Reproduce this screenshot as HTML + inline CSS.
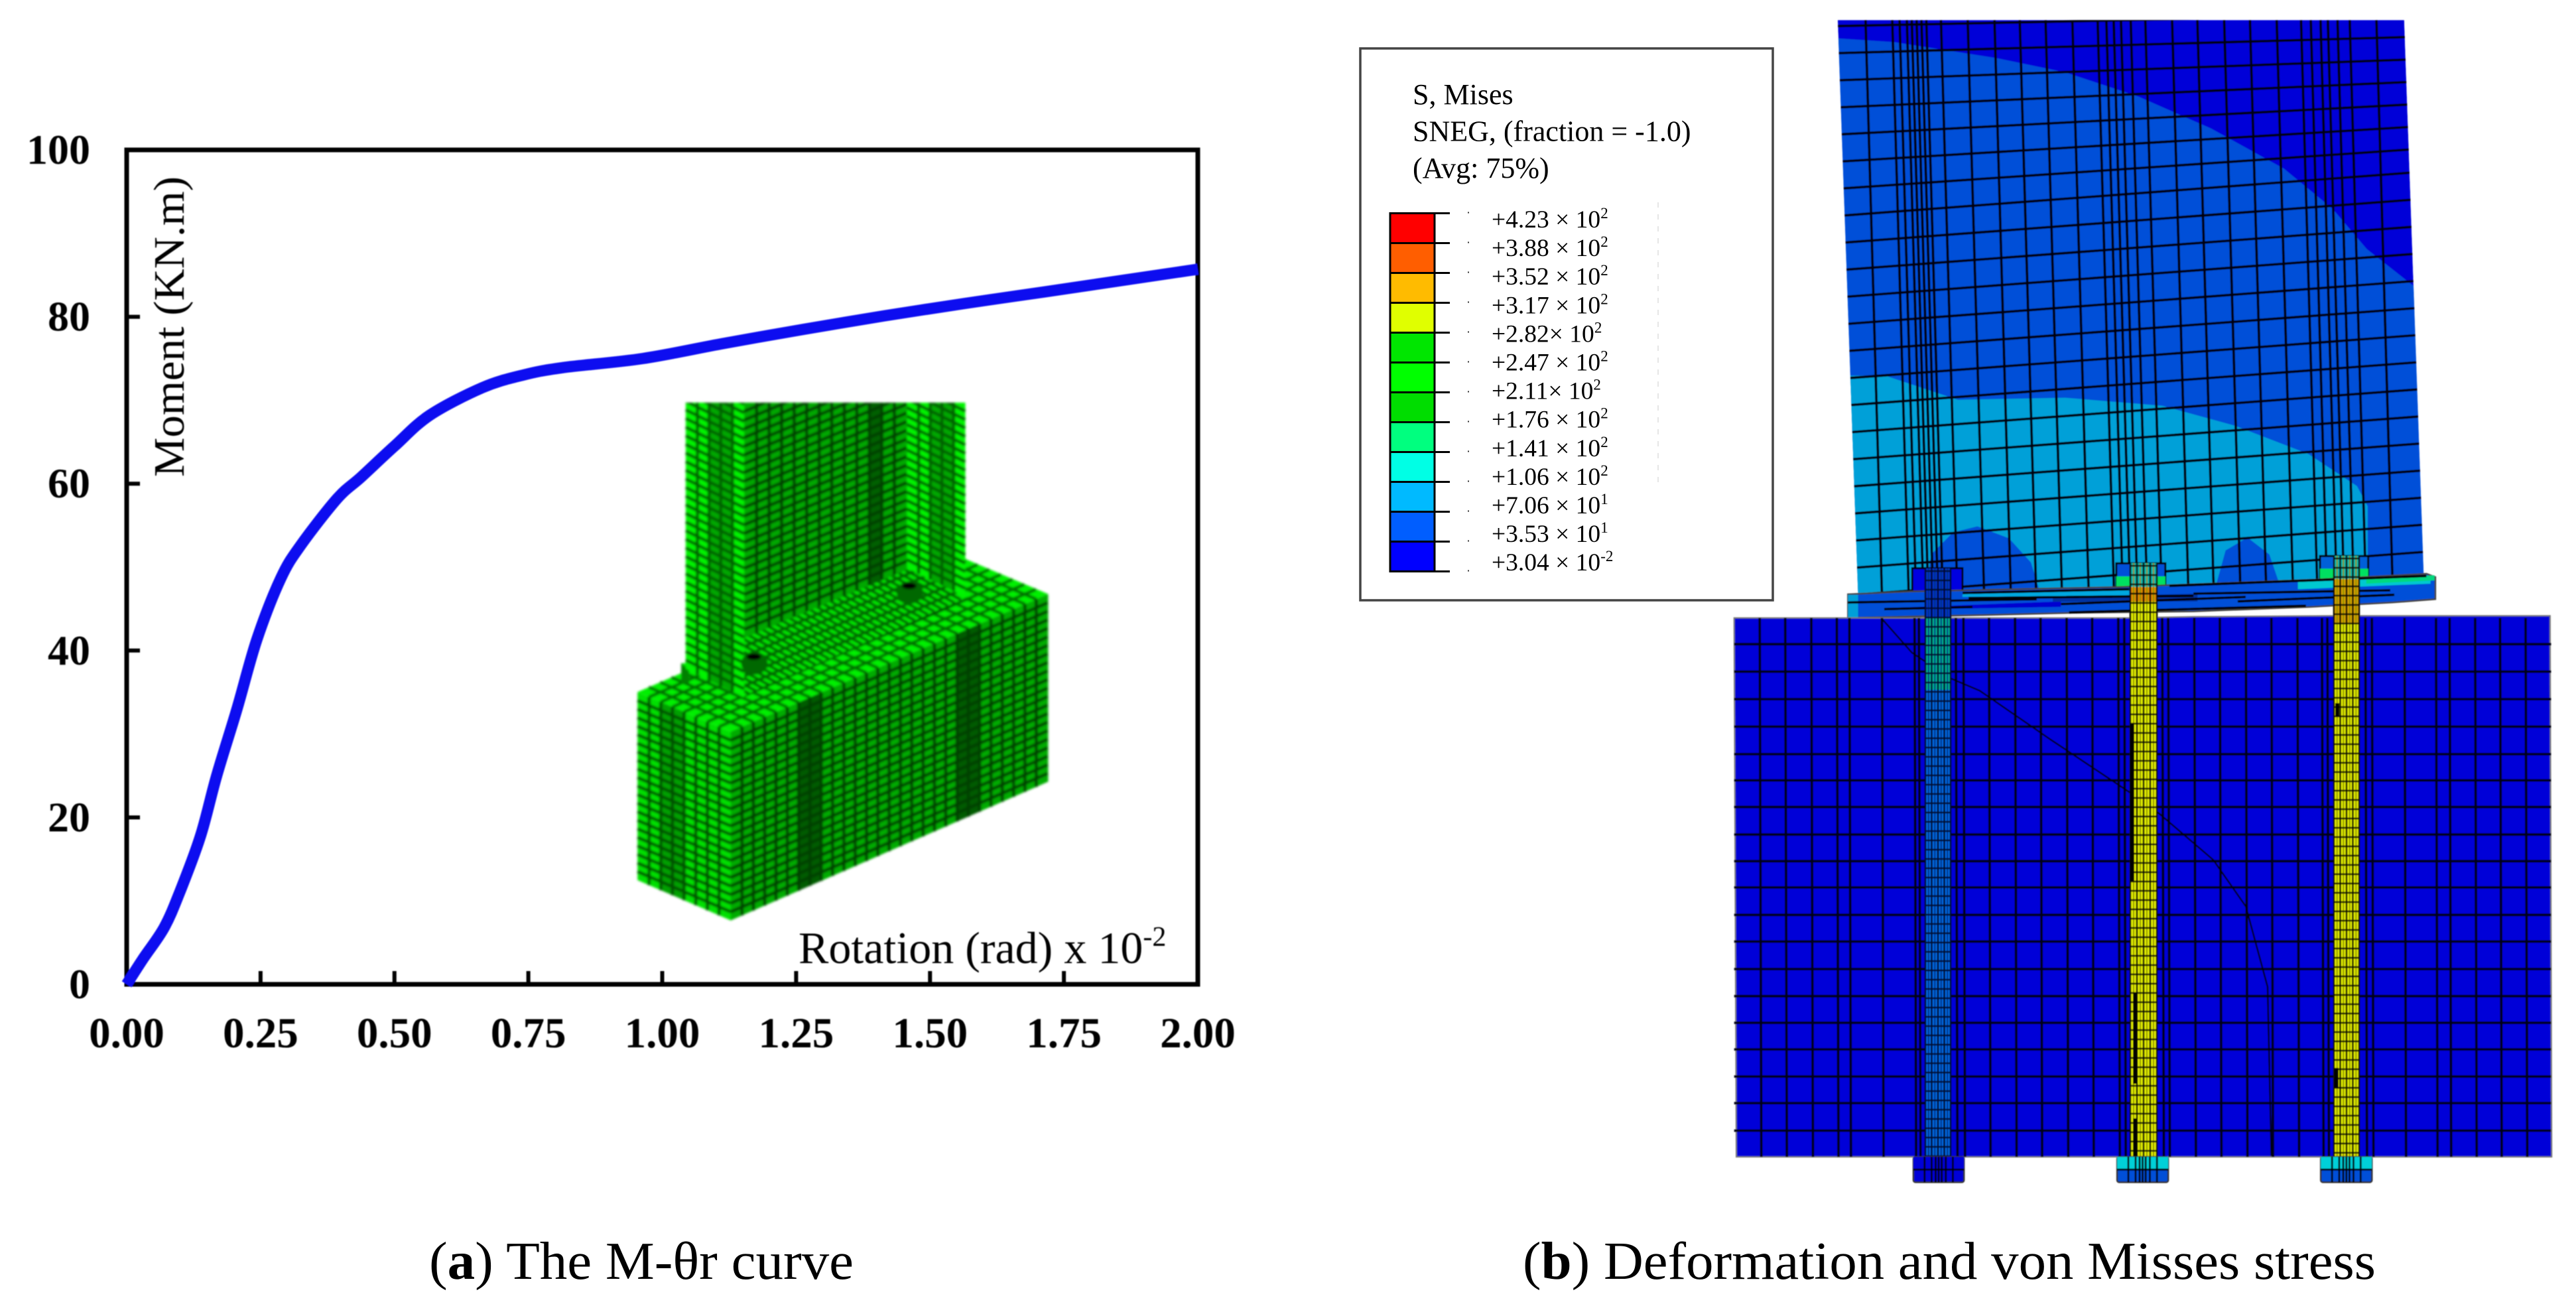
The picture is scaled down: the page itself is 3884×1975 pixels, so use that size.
<!DOCTYPE html>
<html lang="en">
<head>
<meta charset="utf-8">
<title>M-θr curve and von Mises stress</title>
<style>
html,body{margin:0;padding:0;background:#fff;width:3884px;height:1975px;overflow:hidden}
svg{display:block}
text{font-family:"Liberation Serif",serif;fill:#000}
</style>
</head>
<body>
<svg id="fig" xmlns="http://www.w3.org/2000/svg" width="3884" height="1975" viewBox="0 0 3884 1975">
  <defs>
    <filter id="soft" x="-2%" y="-2%" width="104%" height="104%"><feGaussianBlur stdDeviation="1.8"/></filter>
    <filter id="softer" x="-2%" y="-2%" width="104%" height="104%"><feGaussianBlur stdDeviation="0.7"/></filter>
    <filter id="softtext" x="-2%" y="-2%" width="104%" height="104%"><feGaussianBlur stdDeviation="0.9"/></filter>
    <clipPath id="columnTopClip"><rect x="1000" y="607" width="500" height="700"/></clipPath>
  </defs>
  <rect width="3884" height="1975" fill="#fff"/>
  <g id="inset" filter="url(#soft)"></g>
  <g id="chart" filter="url(#softtext)"></g>
  <g id="legend"></g>
  <g id="model" filter="url(#softer)"></g>
  <text x="647" y="1928" font-size="80" textLength="640" lengthAdjust="spacingAndGlyphs">(<tspan font-weight="bold">a</tspan>) The M-θr curve</text>
  <text x="2296" y="1928" font-size="80" textLength="1286" lengthAdjust="spacingAndGlyphs">(<tspan font-weight="bold">b</tspan>) Deformation and von Misses stress</text>
</svg>
<script>
/* ---------- chart data ---------- */
const rotationValues = [0, 0.03, 0.07, 0.10, 0.138, 0.168, 0.206, 0.243, 0.288, 0.326, 0.393, 0.438, 0.50, 0.566, 0.664, 0.739, 0.814, 0.964, 1.114, 1.264, 1.414, 1.565, 1.715, 2.0];
const momentValues   = [0, 3.0, 6.8, 11.2, 17.8, 25.0, 33.0, 41.3, 48.7, 52.7, 58.2, 60.8, 64.5, 68.2, 71.5, 73.0, 73.9, 75.0, 76.8, 78.5, 80.1, 81.6, 83.0, 85.7];
const xTickLabels = ["0.00", "0.25", "0.50", "0.75", "1.00", "1.25", "1.50", "1.75", "2.00"];
const yTickLabels = ["0", "20", "40", "60", "80", "100"];

/* ---------- legend data ---------- */
const legendColors = ["#ff0000", "#ff5e00", "#ffbb00", "#e0ff00", "#00e600", "#00ff00", "#00dd00", "#00ff7f", "#00ffe5", "#00baff", "#005eff", "#0000ff"];
const legendMantissas = ["+4.23 × 10", "+3.88 × 10", "+3.52 × 10", "+3.17 × 10", "+2.82× 10", "+2.47 × 10", "+2.11× 10", "+1.76 × 10", "+1.41 × 10", "+1.06 × 10", "+7.06 × 10", "+3.53 × 10", "+3.04 × 10"];
const legendExponents = ["2", "2", "2", "2", "2", "2", "2", "2", "2", "2", "1", "1", "-2"];
const legendTitleLines = ["S, Mises", "SNEG, (fraction = -1.0)", "(Avg: 75%)"];

const NS = "http://www.w3.org/2000/svg";
function mk(parent, tag, attrs, txt) {
  const el = document.createElementNS(NS, tag);
  for (const k in attrs) el.setAttribute(k, attrs[k]);
  if (txt !== undefined) el.textContent = txt;
  parent.appendChild(el);
  return el;
}

/* ---------- chart ---------- */
(function () {
  const g = document.getElementById("chart");
  const L = 191, R = 1806, T = 226, B = 1484;
  const sx = v => L + (v / 2) * (R - L);
  const sy = v => B - (v / 100) * (B - T);

  const frame = mk(g, "rect", { x: L, y: T, width: R - L, height: B - T, fill: "none", stroke: "#000", "stroke-width": 7 });
  
  

  xTickLabels.forEach(lab => {
    const v = parseFloat(lab);
    const t = mk(g, "line", { x1: sx(v), x2: sx(v), y1: B, y2: B - 20, stroke: "#000", "stroke-width": 6 });
    
    
    const l = mk(g, "text", { x: sx(v), y: 1579, "font-size": 65, "font-weight": "bold", "text-anchor": "middle" }, lab);
    
    
  });
  yTickLabels.forEach(lab => {
    const v = parseFloat(lab);
    const t = mk(g, "line", { x1: L, x2: L + 20, y1: sy(v), y2: sy(v), stroke: "#000", "stroke-width": 6 });
    
    
    const l = mk(g, "text", { x: 136, y: sy(v) + 21, "font-size": 64, "font-weight": "bold", "text-anchor": "end" }, lab);
    
    
  });

  /* smooth curve through the data points (Catmull-Rom) */
  const pts = rotationValues.map((x, i) => [sx(x), sy(momentValues[i])]);
  let d = "M" + pts[0][0].toFixed(1) + " " + pts[0][1].toFixed(1);
  for (let i = 0; i < pts.length - 1; i++) {
    const p0 = pts[Math.max(i - 1, 0)], p1 = pts[i], p2 = pts[i + 1], p3 = pts[Math.min(i + 2, pts.length - 1)];
    const c1 = [p1[0] + (p2[0] - p0[0]) / 6, p1[1] + (p2[1] - p0[1]) / 6];
    const c2 = [p2[0] - (p3[0] - p1[0]) / 6, p2[1] - (p3[1] - p1[1]) / 6];
    d += "C" + c1[0].toFixed(1) + " " + c1[1].toFixed(1) + " " + c2[0].toFixed(1) + " " + c2[1].toFixed(1) + " " + p2[0].toFixed(1) + " " + p2[1].toFixed(1);
  }
  const curve = mk(g, "path", { d: d, fill: "none", stroke: "#0c0cf0", "stroke-width": 17, "stroke-linejoin": "round" });
  
  

  const yt = mk(g, "text", { transform: "translate(277,719) rotate(-90)", "font-size": 66, textLength: 453, lengthAdjust: "spacingAndGlyphs", fill: "#111" }, "Moment (KN.m)");
  
  

  const xt = mk(g, "text", { x: 1204, y: 1452, "font-size": 68 });
  
  
  mk(xt, "tspan", {}, "Rotation (rad) x 10");
  mk(xt, "tspan", { "font-size": 42, dy: -26 }, "-2");
})();

/* ---------- legend ---------- */
(function () {
  const g = document.getElementById("legend");
  const box = mk(g, "rect", { x: 2051, y: 73, width: 622, height: 832, fill: "#fff", stroke: "#444", "stroke-width": 3.5 });
  
  

  legendTitleLines.forEach((s, i) => {
    const t = mk(g, "text", { x: 2130, y: 157 + i * 55.5, "font-size": 44 }, s);
    
    
  });

  const cellH = 45, top = 321.5;
  legendColors.forEach((c, i) => {
    const r = mk(g, "rect", { x: 2096, y: top + i * cellH, width: 67, height: cellH, fill: c, stroke: "#000", "stroke-width": 3 });
    
    
  });
  legendMantissas.forEach((s, i) => {
    const y = top + i * cellH;
    const tick = mk(g, "line", { x1: 2163, x2: 2186, y1: y, y2: y, stroke: "#000", "stroke-width": 3 });
    
    
    const dot = mk(g, "rect", { x: 2213, y: y - 2, width: 2, height: 2, fill: "#333" });
    
    
    const t = mk(g, "text", { x: 2249, y: 343 + i * 43.1, "font-size": 37.5, fill: "#111" });
    
    
    mk(t, "tspan", {}, s);
    mk(t, "tspan", { "font-size": 23, dy: -14 }, legendExponents[i]);
  });
  const faint = mk(g, "line", { x1: 2500, x2: 2500, y1: 305, y2: 735, stroke: "#ddd", "stroke-width": 1.5, "stroke-dasharray": "8 10" });
  
  
})();

/* ---------- green inset (isometric mesh illustration) ---------- */
(function () {
  const g = document.getElementById("inset");
  const Z = (x, y) => [950 + x / 2.24, 580 + y / 1.845];
  const lerp = (a, b, t) => [a[0] + (b[0] - a[0]) * t, a[1] + (b[1] - a[1]) * t];
  const P = p => p[0].toFixed(1) + " " + p[1].toFixed(1);

  function face(parent, name, zc, nu, nv, shade, lineColor) {
    const c = zc.map(p => Z(p[0], p[1]));
    const f = mk(parent, "g", {});
    
    
    for (let i = 0; i < nu; i++) {
      const u0 = i / nu, u1 = (i + 1) / nu + 0.002;
      const d = "M" + P(lerp(c[0], c[1], u0)) + "L" + P(lerp(c[0], c[1], u1)) + "L" + P(lerp(c[3], c[2], u1)) + "L" + P(lerp(c[3], c[2], u0)) + "Z";
      mk(f, "path", { d: d, fill: shade((i + 0.5) / nu, i) });
    }
    let m = "";
    for (let j = 1; j < nv; j++) {
      const t = j / nv;
      m += "M" + P(lerp(c[0], c[3], t)) + "L" + P(lerp(c[1], c[2], t));
    }
    mk(f, "path", { d: m, fill: "none", stroke: lineColor, "stroke-width": 4.6 });
    let v = "";
    for (let i = 1; i < nu; i++) {
      const t = i / nu;
      v += "M" + P(lerp(c[0], c[1], t)) + "L" + P(lerp(c[3], c[2], t));
    }
    mk(f, "path", { d: v, fill: "none", stroke: lineColor, "stroke-width": 4.6 });
  }

  const brightTop = (u, i) => "#00f000";
  const flangeShade = (u, i) => (i === 2 || i === 3) ? "#00a800" : "#00f400";
  const frontShade = (u, i) => (u > 0.215 && u < 0.30) || (u > 0.70 && u < 0.78) ? "#005c00" : "#00ac00";
  const leftShade = (u, i) => (i >= 2 && i <= 3) ? "#00a000" : "#00e000";
  const webShade = (u, i) => u > 0.80 && u < 0.88 ? "#006000" : "#00a800";

  face(g, "block-top-face", [[25, 855], [1095, 473], [1410, 583], [340, 965]], 28, 8, brightTop, "#007000");
  const nub = mk(g, "rect", { x: 1027, y: 1000, width: 12, height: 30, fill: "#008000" });
  
  
  face(g, "plate-top-face", [[175, 778], [935, 500], [1140, 590], [380, 868]], 34, 6, brightTop, "#006800");

  const cols = mk(g, "g", { "clip-path": "url(#columnTopClip)" });
  
  
  face(cols, "left-flange-face", [[188, -50], [385, 30], [385, 870], [188, 790]], 5, 35, flangeShade, "#006000");
  face(cols, "web-face", [[385, 50], [935, -140], [935, 515], [385, 705]], 13, 27, webShade, "#004000");
  face(cols, "right-flange-face", [[935, -30], [1132, 50], [1132, 590], [935, 510]], 5, 23, flangeShade, "#006000");

  const gap = [[380, 868], [1145, 590], [1060, 625], [450, 840]].map(p => Z(p[0], p[1]));
  const gp = mk(g, "path", { d: "M" + gap.map(P).join("L") + "Z", fill: "#002800" });
  
  
  [[420, 775], [945, 578]].forEach(b => {
    const c = Z(b[0], b[1]);
    const h = mk(g, "ellipse", { cx: c[0], cy: c[1], rx: 20, ry: 17, fill: "#006800" });
    
    
    const k = mk(g, "ellipse", { cx: c[0] - 1, cy: c[1] - 10, rx: 11, ry: 5, fill: "#000" });
    
    
  });
  face(g, "block-left-face", [[25, 855], [340, 965], [340, 1490], [25, 1378]], 8, 22, leftShade, "#005000");
  face(g, "block-front-face", [[340, 965], [1410, 583], [1410, 1105], [340, 1490]], 28, 22, frontShade, "#004000");
})();

/* ---------- deformed model (right panel illustration) ---------- */
(function () {
  const g = document.getElementById("model");
  const Z3 = (x, y) => [2600 + x / 1.363, y / 1.651];
  const Z4 = (x, y) => [2600 + x / 1.221, 850 + y / 1.568];
  const Z7 = (x, y) => [2750 + x / 1.651, 820 + y / 3];
  const P = p => p[0].toFixed(1) + " " + p[1].toFixed(1);
  const poly = (Z, pts) => "M" + pts.map(p => P(Z(p[0], p[1]))).join("L") + "Z";
  function add(parent, name, d, fill, stroke, sw) {
    const el = mk(parent, "path", { d: d, fill: fill || "none" });
    if (stroke) { el.setAttribute("stroke", stroke); el.setAttribute("stroke-width", sw); }
    
    
    return el;
  }

  /* clip for column */
  const defs = document.querySelector("defs");
  const colOutline = [[233, 50], [1397, 50], [1437, 1430], [1225, 1445], [275, 1490]];
  const cp = mk(defs, "clipPath", { id: "colClip" });
  mk(cp, "path", { d: poly(Z3, colOutline) });

  const col = mk(g, "g", { "clip-path": "url(#colClip)" });
  
  

  add(col, "column-contour-low", poly(Z3, colOutline), "#0000d8");
  add(col, "column-contour-mid", poly(Z3, [[225, 95], [350, 105], [560, 145], [700, 180], [850, 240], [1000, 320], [1150, 420], [1250, 520], [1320, 620], [1430, 725], [1460, 1500], [225, 1500]]), "#0050d8");
  add(col, "column-contour-high", poly(Z3, [[230, 935], [330, 935], [480, 995], [700, 990], [900, 1010], [1050, 1060], [1200, 1130], [1300, 1210], [1322, 1260], [1322, 1385], [1225, 1400], [1225, 1500], [230, 1500]]), "#00a0d8");
  add(col, "column-stress-blob-left", poly(Z3, [[410, 1500], [425, 1380], [470, 1325], [520, 1310], [585, 1340], [630, 1400], [655, 1500]]), "#0050d8");
  add(col, "column-stress-blob-right", poly(Z3, [[1005, 1480], [1030, 1370], [1075, 1338], [1120, 1380], [1148, 1480]]), "#0050d8");

  /* column mesh */
  const colU = [290, 345, 360, 375, 385, 395, 405, 415, 445, 500, 555, 607, 660, 715, 767, 785, 800, 815, 835, 865, 920, 972, 1027, 1080, 1135, 1185, 1205, 1225, 1240, 1260, 1285, 1340];
  let mesh = "";
  colU.forEach(x => {
    const a = Z3(x, 50), b = Z3(x + 34, 1490);
    mesh += "M" + P(a) + "L" + P(b);
  });
  for (let i = 0; i < 22; i++) {
    const ly = 65 + 67.6 * i, dy = Math.min(112, 30 + i * 12);
    mesh += "M" + P(Z3(225, ly)) + "L" + P(Z3(1450, ly - dy));
  }
  add(col, "column-mesh", mesh, "none", "#03030c", 3.8);

  /* bolt nuts inside the column */
  const nuts = [[220, 110, 345, 215, "#0000e0", null], [728, 88, 850, 195, "#0050d8", "#00e060"], [1235, 55, 1355, 160, "#0060d8", "#00e060"]];
  nuts.forEach(h => {
    const a = Z7(h[0], h[1]), b = Z7(h[2], h[3]);
    const r = mk(g, "rect", { x: a[0], y: a[1], width: b[0] - a[0], height: b[1] - a[1], fill: h[4], stroke: "#000", "stroke-width": 3 });
    
    
    if (h[5]) {
      const s = mk(g, "rect", { x: a[0], y: b[1] - 16, width: b[0] - a[0], height: 15, fill: h[5] });
      
      
    }
  });

  /* base plate */
  const plate = [[60, 228], [215, 215], [735, 195], [1240, 160], [1500, 135], [1522, 150], [1522, 250], [1415, 265], [1210, 285], [920, 305], [610, 312], [390, 322], [60, 335]];
  add(g, "base-plate", poly(Z7, plate), "#0050d8", "#444", 2.5);
  add(g, "plate-cyan-band-a", poly(Z7, [[345, 222], [760, 205], [760, 232], [345, 240]]), "#00a8e0");
  add(g, "plate-dark-band-a", poly(Z7, [[160, 290], [590, 260], [590, 285], [160, 298]]), "#0000d0");
  add(g, "plate-dark-band-b", poly(Z7, [[570, 240], [930, 225], [930, 260], [570, 262]]), "#0030a0");
  add(g, "plate-cyan-band-b", poly(Z7, [[1180, 170], [1510, 145], [1510, 180], [1180, 205]]), "#00c8d0");
  add(g, "plate-green-end", poly(Z7, [[1350, 160], [1520, 142], [1520, 165], [1350, 180]]), "#00d880");
  add(g, "plate-cyan-left", poly(Z7, [[60, 230], [85, 230], [85, 335], [60, 335]]), "#00a0d8");
  const plateLines = [[[60, 265], [530, 250]], [[345, 222], [760, 205]], [[360, 245], [920, 235]], [[590, 272], [1050, 240]], [[610, 310], [1200, 280]], [[860, 190], [1500, 145]], [[920, 225], [1410, 210]], [[1030, 260], [1420, 230]], [[150, 295], [370, 285]]];
  let pl = "";
  plateLines.forEach(l => { pl += "M" + P(Z7(l[0][0], l[0][1])) + "L" + P(Z7(l[1][0], l[1][1])); });
  add(g, "plate-mesh", pl, "none", "#000", 3.6);

  /* lower block */
  add(g, "concrete-block", poly(Z4, [[18, 128], [470, 128], [740, 128], [865, 125], [1120, 123], [1520, 123], [1523, 1402], [22, 1402]]), "#0000d8", "#777", 2);
  const blockU = [65, 112, 160, 207, 230, 290, 350, 358, 426, 440, 487, 535, 582, 630, 677, 725, 736, 806, 817, 865, 912, 960, 1007, 1055, 1100, 1110, 1180, 1192, 1252, 1310, 1335, 1382, 1428, 1475];
  const blockV = [190, 255, 320, 385, 450, 512, 575, 640, 703, 765, 830, 893, 958, 1022, 1085, 1148, 1212, 1275, 1340];
  let bm = "";
  blockU.forEach(x => { bm += "M" + P(Z4(x, 128)) + "L" + P(Z4(x + 3, 1402)); });
  blockV.forEach(y => { bm += "M" + P(Z4(18, y)) + "L" + P(Z4(1522, y)); });
  add(g, "concrete-block-mesh", bm, "none", "#000018", 3.8);

  /* crack line */
  const crack = [[290, 130], [345, 210], [415, 270], [470, 300], [600, 415], [740, 535], [800, 590], [900, 700], [960, 810], [1000, 1000], [1007, 1400]];
  add(g, "crack-line", "M" + crack.map(p => P(Z4(p[0], p[1]))).join("L"), "none", "#000", 2.4);

  /* bolts: x-range plus vertical stress zones (real y) */
  const shanks = [
    { x0: 2903, x1: 2941, top: 857, base: "#0068e0", zones: [[857, 930, "#0030c8"], [930, 1040, "#00b090"]], dim: "#003080", line: "#000a30", black: [] },
    { x0: 3212, x1: 3252, top: 849, base: "#e4f000", zones: [[849, 885, "#00b8b0"], [885, 907, "#e08800"]], dim: "#8a9000", line: "#0c0c00", black: [[3215, 1092, 1328], [3219, 1496, 1634], [3219, 1686, 1745]] },
    { x0: 3519, x1: 3557, top: 838, base: "#e4f000", zones: [[838, 873, "#00b8b0"], [873, 940, "#d8a000"]], dim: "#8a9000", line: "#0c0c00", black: [[3523, 1610, 1640], [3524, 1060, 1080]] }
  ];
  shanks.forEach(s => {
    const w = s.x1 - s.x0, b = 1744;
    const bg = mk(g, "rect", { x: s.x0, y: s.top, width: w, height: b - s.top, fill: s.base });
    
    
    s.zones.forEach(z => {
      const st = mk(g, "rect", { x: s.x0, y: z[0], width: w, height: z[1] - z[0], fill: z[2] });
      
      
    });
    let dim = "";
    for (let k = 0; k < 4; k++) dim += "M" + (s.x0 + w * (k + 0.5) / 4).toFixed(1) + " " + s.top + "V" + b;
    add(g, "bolt-shank-mesh-minor", dim, "none", s.dim, 2);
    let m = "";
    for (let k = 0; k <= 4; k++) m += "M" + (s.x0 + w * k / 4).toFixed(1) + " " + s.top + "V" + b;
    for (let yy = s.top + 4; yy < b; yy += 14) m += "M" + s.x0 + " " + yy + "H" + s.x1;
    add(g, "bolt-shank-mesh", m, "none", s.line, 2.6);
    s.black.forEach(k => {
      const e = mk(g, "rect", { x: k[0] - 3, y: k[1], width: 6, height: k[2] - k[1], fill: "#000" });
      
      
    });
  });

  /* bolt heads below block */
  const heads = [[348, 441, "#0000d8", "#0000d8"], [723, 817, "#00d0d8", "#0050d8"], [1098, 1192, "#00d0d8", "#0050d8"]];
  heads.forEach(h => {
    const a = Z4(h[0], 1402), b = Z4(h[1], 1462);
    const w = b[0] - a[0], ht = b[1] - a[1];
    const r = mk(g, "rect", { x: a[0], y: a[1], width: w, height: ht, rx: 3, fill: h[3], stroke: "#333", "stroke-width": 2.5 });
    
    
    const r2 = mk(g, "rect", { x: a[0], y: a[1], width: w, height: ht * 0.5, fill: h[2] });
    
    
    let m = "M" + a[0].toFixed(1) + " " + (a[1] + ht * 0.5).toFixed(1) + "H" + b[0].toFixed(1);
    [0.22, 0.36, 0.44, 0.5, 0.56, 0.64, 0.78].forEach(t => {
      const x = a[0] + w * t;
      m += "M" + x.toFixed(1) + " " + a[1].toFixed(1) + "V" + b[1].toFixed(1);
    });
    add(g, "bolt-head-mesh", m, "none", "#000", 2.8);
  });
})();
</script>
</body>
</html>
